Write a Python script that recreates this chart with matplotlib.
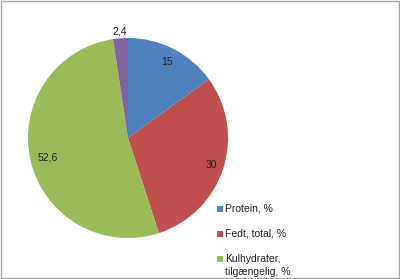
import numpy as np
import matplotlib.pyplot as plt
from matplotlib.patches import Rectangle

plt.rcParams['font.family'] = ['Liberation Sans', 'DejaVu Sans']

labels = ['Protein, %', 'Fedt, total, %', 'Kulhydrater,\ntilgængelig, %', 'Alkohol, %']
values = [15, 30, 52.6, 2.4]
value_text = ['15', '30', '52,6', '2,4']
colors = ['#4F81BD', '#C0504D', '#9BBB59', '#8064A2']
label_dist = [0.85, 0.88, 0.83, 1.07]

W, H = 400, 279
fig = plt.figure(figsize=(W / 100, H / 100), dpi=100)
fig.patches.append(Rectangle((0.002, 0.003), 0.995, 0.993, transform=fig.transFigure,
                             fill=False, edgecolor='#a6a6a6', linewidth=1.0))

ax = fig.add_axes([28 / W, 41 / H, 200 / W, 200 / H])
wedges, _ = ax.pie(values, colors=colors, startangle=90, counterclock=False,
                   radius=1.0, wedgeprops=dict(linewidth=0))
ax.set_xlim(-1, 1)
ax.set_ylim(-1, 1)

for w, txt, d in zip(wedges, value_text, label_dist):
    ang = np.deg2rad((w.theta1 + w.theta2) / 2)
    ax.text(d * np.cos(ang), d * np.sin(ang), txt, ha='center', va='center',
            fontsize=7.5, color='#222222')

# legend drawn by hand (only the first three entries fit in the frame)
y = 208.5
for lab, col in zip(labels[:3], colors[:3]):
    fig.patches.append(Rectangle((217 / W, 1 - (y + 3) / H), 6 / W, 6 / H,
                                 transform=fig.transFigure, facecolor=col, edgecolor='none'))
    fig.text(225 / W, 1 - (y - 5) / H, lab, ha='left', va='top', fontsize=7.5,
             color='#222222', linespacing=1.45)
    y += 25

fig.savefig('out.png', dpi=100)
